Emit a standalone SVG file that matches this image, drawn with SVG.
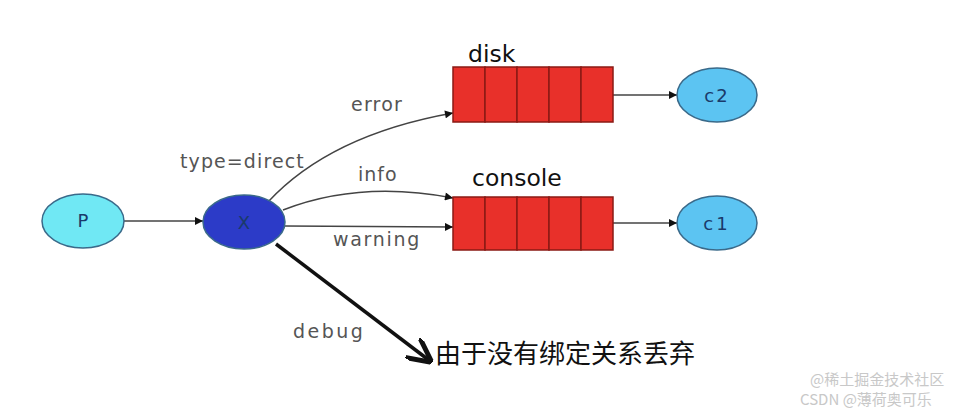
<svg xmlns="http://www.w3.org/2000/svg" width="979" height="415" viewBox="0 0 979 415">
<style>
.lbl{font-family:"DejaVu Sans",sans-serif;font-size:19px;fill:#555}
.qn{font-family:"DejaVu Sans",sans-serif;font-size:23.5px;fill:#111}
.nt{font-family:"DejaVu Sans",sans-serif;font-size:18px;fill:#1a3a6a;text-anchor:middle}
.q{fill:#e8302a;stroke:#8a1a14;stroke-width:1.5}
.e{stroke:#3a6a8a;stroke-width:1.5}
.c{fill:none;stroke:#444;stroke-width:1.5}
.wm{font-family:"Noto Sans CJK SC",sans-serif;font-size:15px;fill:#c8c8c8}
</style>
<defs>
<marker id="ah" viewBox="0 0 10 10" refX="10" refY="5" markerWidth="10" markerHeight="8" markerUnits="userSpaceOnUse" orient="auto">
<path d="M0,0 L10,5 L0,10 z" fill="#111"/>
</marker>
<marker id="ahb" viewBox="0 0 10 10" refX="9" refY="5" markerWidth="7" markerHeight="7" orient="auto">
<path d="M0,0 L10,5 L0,10" fill="none" stroke="#111" stroke-width="2"/>
</marker>
</defs>
<rect width="979" height="415" fill="#fff"/>
<g id="connectors">
<line class="c" x1="124" y1="221" x2="203" y2="221" marker-end="url(#ah)"/>
<path class="c" d="M268,202 Q330,135 453,113" marker-end="url(#ah)"/>
<path class="c" d="M283,210 Q360,180 453,198" marker-end="url(#ah)"/>
<path class="c" d="M285,226 L453,227" marker-end="url(#ah)"/>
<line class="c" x1="613" y1="95" x2="677" y2="95" marker-end="url(#ah)"/>
<line class="c" x1="613" y1="223" x2="677" y2="223" marker-end="url(#ah)"/>
<line x1="276" y1="244" x2="430" y2="361" stroke="#111" stroke-width="3.5" marker-end="url(#ahb)"/>
<text class="lbl" x="180" y="168" letter-spacing="1.1">type=direct</text>
<text class="lbl" x="351" y="111" letter-spacing="1.2">error</text>
<text class="lbl" x="358" y="181" letter-spacing="1">info</text>
<text class="lbl" x="333" y="246" letter-spacing="1.7">warning</text>
<text class="lbl" x="293" y="338" font-size="20" letter-spacing="2.5">debug</text>
</g>
<g id="P"><ellipse class="e" cx="83" cy="221" rx="41" ry="27" fill="#70e8f4"/><text class="nt" x="83" y="227" font-size="16">P</text></g>
<g id="X"><ellipse class="e" cx="244" cy="222" rx="41" ry="27" fill="#2c3bc8" stroke="#22307a"/><text class="nt" x="244" y="229" font-size="18" fill="#101a50">X</text></g>
<g id="disk">
<rect class="q" x="453" y="67" width="32" height="55"/><rect class="q" x="485" y="67" width="32" height="55"/><rect class="q" x="517" y="67" width="32" height="55"/><rect class="q" x="549" y="67" width="32" height="55"/><rect class="q" x="581" y="67" width="32" height="55"/>
<text class="qn" x="468" y="62">disk</text>
</g>
<g id="console">
<rect class="q" x="453" y="197" width="32" height="53"/><rect class="q" x="485" y="197" width="32" height="53"/><rect class="q" x="517" y="197" width="32" height="53"/><rect class="q" x="549" y="197" width="32" height="53"/><rect class="q" x="581" y="197" width="32" height="53"/>
<text class="qn" x="472" y="186">console</text>
</g>
<g id="C2"><ellipse class="e" cx="717" cy="95" rx="40" ry="27" fill="#5cc4f2"/><text class="nt" x="717" y="102" font-size="20" letter-spacing="2">c2</text></g>
<g id="C1"><ellipse class="e" cx="717" cy="223" rx="40" ry="27" fill="#5cc4f2"/><text class="nt" x="717" y="230" font-size="20" letter-spacing="3">c1</text></g>
<g id="discard"><text x="435" y="363" font-family="Noto Sans CJK SC,sans-serif" font-size="26" fill="#111">由于没有绑定关系丢弃</text></g>
<g id="watermark">
<text class="wm" x="810" y="385">@稀土掘金技术社区</text>
<text class="wm" x="800" y="405">CSDN @薄荷奥可乐</text>
</g>
</svg>
